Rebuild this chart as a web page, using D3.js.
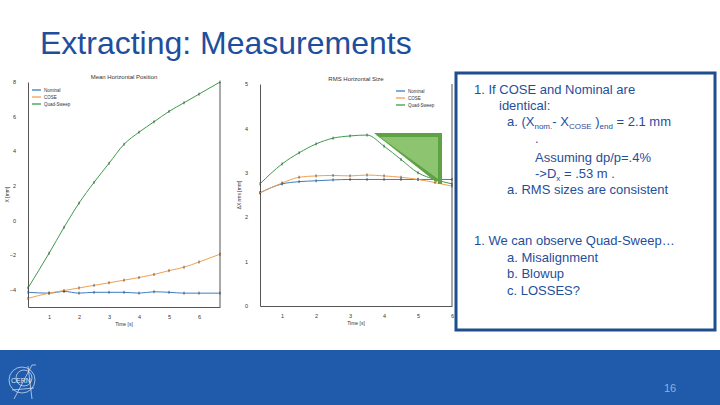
<!DOCTYPE html>
<html><head><meta charset="utf-8">
<script src="https://cdn.jsdelivr.net/npm/d3@7"></script>
<style>body{margin:0;background:#fff}svg{display:block;font-family:"Liberation Sans",Arial,sans-serif}</style>
</head><body><svg id="s" width="720" height="405"></svg>
<script>
// mean horizontal position [mm]
const tPos = [0.3, 1, 1.5, 2, 2.5, 3, 3.5, 4, 4.5, 5, 5.5, 6, 6.7];
const posNominal = [-4.15, -4.2, -4.1, -4.2, -4.15, -4.15, -4.15, -4.2, -4.12, -4.15, -4.2, -4.2, -4.2];
const posCose = [-4.5, -4.2, -4.05, -3.9, -3.75, -3.6, -3.45, -3.3, -3.12, -2.9, -2.7, -2.4, -1.95];
const posQuad = [-3.9, -1.9, -0.4, 1.0, 2.2, 3.3, 4.4, 5.1, 5.7, 6.3, 6.8, 7.3, 8.0];
// rms horizontal size [mm]
const tRms = [0.35, 1, 1.5, 2, 2.5, 3, 3.5, 4, 4.5, 5, 5.5, 6];
const rmsNominal = [2.55, 2.75, 2.8, 2.82, 2.84, 2.85, 2.85, 2.85, 2.85, 2.85, 2.85, 2.85];
const rmsCose = [2.55, 2.77, 2.9, 2.93, 2.94, 2.93, 2.95, 2.93, 2.9, 2.85, 2.78, 2.7];
const rmsQuad = [2.75, 3.2, 3.45, 3.65, 3.78, 3.83, 3.85, 3.6, 3.3, 3.0, 2.85, 2.75];
const seriesNames = ["Nominal", "COSE", "Quad-Sweep"];
const colors = ["#3a7fc1", "#f0a050", "#3d9c4a"];
const posTicks = [-4, -2, 0, 2, 4, 6, 8];
const rmsTicks = [0, 1, 2, 3, 4, 5];
const timeTicks = [1, 2, 3, 4, 5, 6];

const svg = d3.select("#s");

svg.append("text").attr("x", 40).attr("y", 54).attr("font-size", 32).attr("fill", "#1f4e9c")
  .text("Extracting: Measurements");

function chart(o) {
  const g = svg.append("g");
  const x = d3.scaleLinear().domain(o.xd).range([o.x0, o.x1]);
  const y = d3.scaleLinear().domain(o.yd).range([o.y1, o.y0]);
  const axisStyle = sel => {
    sel.select(".domain").attr("stroke", "#555");
    sel.selectAll("line").remove();
    sel.selectAll("text").attr("font-size", 5.5).attr("fill", "#333");
  };
  g.append("g").attr("transform", `translate(0,${o.y1})`)
    .call(d3.axisBottom(x).tickValues(timeTicks).tickFormat(d3.format("d")).tickSizeOuter(0).tickPadding(2)).call(axisStyle);
  g.append("g").attr("transform", `translate(${o.x0},0)`)
    .call(d3.axisLeft(y).tickValues(o.ticks).tickFormat(d3.format("d")).tickSizeOuter(0).tickPadding(6)).call(axisStyle);
  g.append("line").attr("x1", o.x1).attr("x2", o.x1).attr("y1", o.y0).attr("y2", o.y1).attr("stroke", "#555");
  g.append("text").attr("x", (o.x0 + o.x1) / 2).attr("y", o.y0 - 3).attr("text-anchor", "middle")
    .attr("font-size", 6).attr("fill", "#333").text(o.title);
  g.append("text").attr("x", (o.x0 + o.x1) / 2).attr("y", o.y1 + 19).attr("text-anchor", "middle")
    .attr("font-size", 5).attr("fill", "#333").text("Time [s]");
  g.append("text").attr("transform", `translate(${o.x0 - 19},${(o.y0 + o.y1) / 2}) rotate(-90)`)
    .attr("text-anchor", "middle").attr("font-size", 5).attr("fill", "#333").text(o.ylabel);
  const line = d3.line().x((d, i) => x(o.t[i])).y(d => y(d)).curve(d3.curveMonotoneX);
  o.series.forEach((s, k) => {
    g.append("path").datum(s).attr("d", line).attr("fill", "none").attr("stroke", colors[k]).attr("stroke-width", 1);
    g.selectAll(null).data(s).enter().append("line")
      .attr("x1", (d, i) => x(o.t[i])).attr("x2", (d, i) => x(o.t[i]))
      .attr("y1", d => y(d) - 1.5).attr("y2", d => y(d) + 1.5).attr("stroke", "#222").attr("stroke-width", 0.7);
  });
  const lg = g.append("g").attr("transform", `translate(${o.lx},${o.ly})`);
  seriesNames.forEach((n, k) => {
    lg.append("line").attr("x1", 0).attr("x2", 9).attr("y1", k * 7).attr("y2", k * 7).attr("stroke", colors[k]).attr("stroke-width", 1.3);
    lg.append("text").attr("x", 12).attr("y", k * 7 + 2).attr("font-size", 4.5).attr("fill", "#333").text(n);
  });
}

chart({x0: 28, x1: 220, y0: 82, y1: 307, xd: [0.3, 6.7], yd: [-5, 8], ticks: posTicks,
  t: tPos, series: [posNominal, posCose, posQuad], title: "Mean Horizontal Position",
  ylabel: "X [mm]", lx: 32, ly: 90});

chart({x0: 260, x1: 452, y0: 84, y1: 306, xd: [0.35, 6], yd: [0, 5], ticks: rmsTicks,
  t: tRms, series: [rmsNominal, rmsCose, rmsQuad], title: "RMS Horizontal Size",
  ylabel: "ΔX rms [mm]", lx: 396, ly: 91});

// highlight triangle
svg.append("polygon").attr("points", "376,135 440,135 440,180").attr("fill", "#8cc46f");
svg.append("polygon").attr("points", "374,133 442,133 442,184 438,184 438,137 380,137 440,180 436,182")
  .attr("fill", "#5fa244");

// text box
svg.append("rect").attr("x", 456).attr("y", 73).attr("width", 259).attr("height", 257)
  .attr("fill", "#fff").attr("stroke", "#1f4e8c").attr("stroke-width", 3);
const rows = [
  [474, 94, "1.   If COSE and Nominal are"],
  [499, 110, "identical:"],
  [535, 143, "."],
  [535, 162, "Assuming dp/p=.4%"],
  [507, 194, "a.   RMS sizes are consistent"],
  [474, 245, "1.   We can observe Quad-Sweep…"],
  [507, 262, "a.   Misalignment"],
  [507, 278, "b.   Blowup"],
  [507, 295, "c.   LOSSES?"]
];
rows.forEach(([x, y, s]) => svg.append("text").attr("x", x).attr("y", y).attr("font-size", 13).attr("fill", "#1f4e9c").text(s));
const a = svg.append("text").attr("x", 507).attr("y", 126).attr("font-size", 13).attr("fill", "#1f4e9c");
a.append("tspan").text("a.   (X");
a.append("tspan").attr("font-size", 8).attr("dy", 3).text("nom.");
a.append("tspan").attr("dy", -3).text("- X");
a.append("tspan").attr("font-size", 8).attr("dy", 3).text("COSE");
a.append("tspan").attr("dy", -3).text(" )");
a.append("tspan").attr("font-size", 8).attr("dy", 3).text("end");
a.append("tspan").attr("dy", -3).text(" = 2.1 mm");
const dx = svg.append("text").attr("x", 535).attr("y", 178).attr("font-size", 13).attr("fill", "#1f4e9c");
dx.append("tspan").text("->D");
dx.append("tspan").attr("font-size", 8).attr("dy", 3).text("x");
dx.append("tspan").attr("dy", -3).text(" = .53 m  .");

// footer
svg.append("rect").attr("x", 0).attr("y", 350).attr("width", 720).attr("height", 55).attr("fill", "#1f5aab");
const logo = svg.append("g").attr("stroke", "#dfe8f5").attr("fill", "none").attr("stroke-width", 0.7);
logo.append("circle").attr("cx", 22).attr("cy", 380).attr("r", 13);
logo.append("circle").attr("cx", 24).attr("cy", 378).attr("r", 8);
logo.append("path").attr("d", "M14,399 L32,365 L36,365 M28,366 L32,399 M12,390 L34,388");
svg.append("text").attr("x", 11).attr("y", 383).attr("font-size", 7).attr("fill", "#dfe8f5").text("CERN");
svg.append("text").attr("x", 670).attr("y", 392).attr("text-anchor", "middle").attr("font-size", 11)
  .attr("fill", "#8fb0dc").text("16");
</script></body></html>
